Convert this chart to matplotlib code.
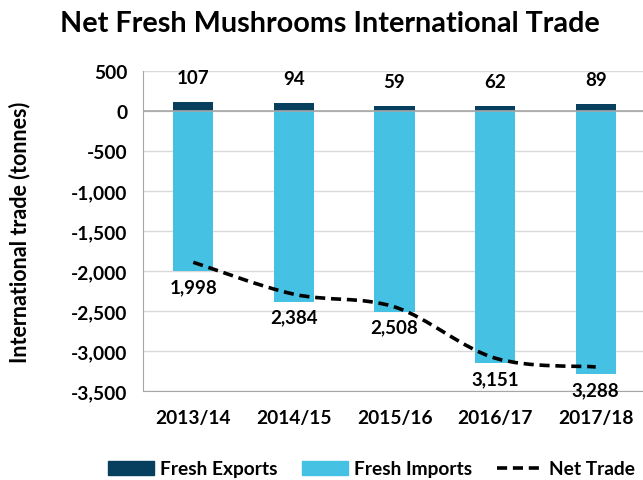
import numpy as np
import matplotlib
matplotlib.use("Agg")
import matplotlib.pyplot as plt
from matplotlib.path import Path
from matplotlib.patches import PathPatch, Patch
from matplotlib.lines import Line2D

seasons = ["2013/14", "2014/15", "2015/16", "2016/17", "2017/18"]
exports = [107, 94, 59, 62, 89]
imports = [-1998, -2384, -2508, -3151, -3288]
yticks = [500, 0, -500, -1000, -1500, -2000, -2500, -3000, -3500]

col_exp = "#07405f"
col_imp = "#45c2e3"
plt.rcParams["font.family"] = ["Lato", "DejaVu Sans"]
plt.rcParams["font.weight"] = "bold"


def smooth_path(xs, ys):
    # excel-like smoothed line: cubic bezier through every point
    pts = np.column_stack([xs, ys]).astype(float)
    n = len(pts)
    verts = [pts[0]]
    codes = [Path.MOVETO]
    for i in range(n - 1):
        p0 = pts[i - 1] if i > 0 else pts[i]
        p1 = pts[i]
        p2 = pts[i + 1]
        p3 = pts[i + 2] if i + 2 < n else pts[i + 1]
        c1 = p1 + (p2 - p0) / 6.0
        c2 = p2 - (p3 - p1) / 6.0
        verts += [c1, c2, p2]
        codes += [Path.CURVE4] * 3
    return Path(verts, codes)


def main():
    fig = plt.figure(figsize=(6.43, 4.81), dpi=100)
    ax = fig.add_axes([143 / 643, 89 / 481, 503 / 643, 320 / 481])

    x = np.arange(len(seasons))
    net = np.array(exports) + np.array(imports)
    dash = (0, (2.8, 1.6))

    ax.bar(x, imports, width=0.4, color=col_imp, zorder=2)
    ax.bar(x, exports, width=0.4, color=col_exp, zorder=2)
    ax.add_patch(PathPatch(smooth_path(x, net), fill=False, edgecolor="black",
                           lw=2.6, linestyle=dash, zorder=3))

    for xi, v in zip(x, exports):
        ax.annotate(str(v), (xi, v), xytext=(0, 16), textcoords="offset pixels",
                    ha="center", va="bottom", fontsize=13.5, fontweight="bold")
    for xi, v in zip(x, imports):
        ax.annotate(f"{abs(v):,}", (xi, v), xytext=(0, -7), textcoords="offset pixels",
                    ha="center", va="top", fontsize=13.5, fontweight="bold")

    ax.set_xlim(-0.5, len(seasons) - 0.5)
    ax.set_ylim(-3500, 500)
    ax.set_yticks(yticks)
    ax.set_yticklabels([f"{t:,}" for t in yticks])
    ax.set_xticks(x)
    ax.set_xticklabels(seasons)
    ax.tick_params(length=0, labelsize=13.8)
    ax.tick_params(axis="y", pad=11)
    ax.tick_params(axis="x", pad=13)
    for lab in ax.get_xticklabels() + ax.get_yticklabels():
        lab.set_fontweight("bold")

    ax.yaxis.grid(True, color="#d9d9d9", lw=1, zorder=0)
    ax.axhline(0, color="#a6a6a6", lw=1.2, zorder=2.5)
    for s in ["top", "right"]:
        ax.spines[s].set_visible(False)
    ax.spines["left"].set_color("#a6a6a6")
    ax.spines["bottom"].set_color("#a6a6a6")

    fig.text(20 / 643, 1 - 232 / 481, "International trade (tonnes)", rotation=90,
             ha="center", va="center", fontsize=15.5, fontweight="bold")
    fig.text(330 / 643, 1 - 24 / 481, "Net Fresh Mushrooms International Trade",
             ha="center", va="center", fontsize=20.7, fontweight="bold")

    handles = [Patch(color=col_exp, label="Fresh Exports"),
               Patch(color=col_imp, label="Fresh Imports"),
               Line2D([], [], color="black", lw=2.6, linestyle=dash, label="Net Trade")]
    fig.legend(handles=handles, loc="center left", bbox_to_anchor=(108 / 643, 1 - 470 / 481),
               ncol=3, frameon=False, fontsize=13.8, handlelength=2.4, handleheight=0.7,
               columnspacing=1.3, handletextpad=0.3, borderaxespad=0, borderpad=0)

    fig.savefig("out.png", dpi=100)


if __name__ == "__main__":
    main()
